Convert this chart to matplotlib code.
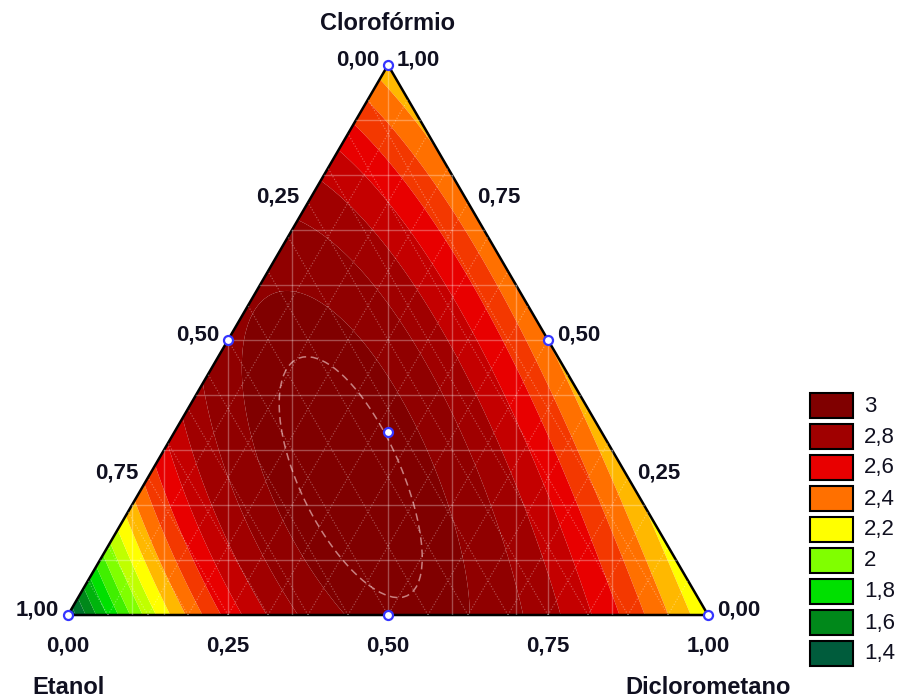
import numpy as np
import matplotlib
matplotlib.use('Agg')
import matplotlib.pyplot as plt
import matplotlib.tri as mtri
from matplotlib.colors import to_rgb, to_hex
from matplotlib.patches import Polygon, Rectangle
from matplotlib.transforms import offset_copy

plt.rcParams['font.family'] = ['Liberation Sans', 'DejaVu Sans']

# pontos (fracoes Etanol, Clorofórmio, Diclorometano) e resposta
etanol = [1, 0, 0, 2/3, 1/3, 2/3, 1/3, 0, 0, 1/3]
cloro = [0, 1, 0, 1/3, 2/3, 0, 0, 2/3, 1/3, 1/3]
dicloro = [0, 0, 1, 0, 0, 1/3, 2/3, 1/3, 2/3, 1/3]
resposta = [1.42, 2.33, 2.22, 2.75, 2.95, 2.85, 2.96, 2.42, 2.35, 3.05]

# pontos do planejamento (simplex-centroide)
exp_etanol = [1, 0, 0, 0.5, 0.5, 0, 1/3]
exp_cloro = [0, 1, 0, 0.5, 0, 0.5, 1/3]
exp_dicloro = [0, 0, 1, 0, 0.5, 0.5, 1/3]

# legenda
leg_valores = [3, 2.8, 2.6, 2.4, 2.2, 2, 1.8, 1.6, 1.4]
leg_textos = ['3', '2,8', '2,6', '2,4', '2,2', '2', '1,8', '1,6', '1,4']
leg_cores = ['#800000', '#A00000', '#E80000', '#FF7000', '#FFFF00',
             '#80FF00', '#00E000', '#00881A', '#005C3C']

ticks = [0, 0.25, 0.5, 0.75, 1]
ticks_txt = ['0,00', '0,25', '0,50', '0,75', '1,00']
niveis_tracejados = [3.055]

H = np.sqrt(3) / 2


def termos(e, c, d):
    e, c, d = (np.asarray(v, dtype=float) for v in (e, c, d))
    return np.stack([e, c, d, e*c, e*d, c*d,
                     e*c*(e - c), e*d*(e - d), c*d*(c - d), e*c*d], axis=-1)


def cart(c, d):
    c = np.asarray(c, dtype=float)
    d = np.asarray(d, dtype=float)
    return d + c / 2, c * H


# modelo cubico de Scheffé ajustado aos pontos
coef = np.linalg.solve(termos(etanol, cloro, dicloro), resposta)

tri0 = mtri.Triangulation([0, 1, 0.5], [0, 0, H])
tri = mtri.UniformTriRefiner(tri0).refine_triangulation(subdiv=7)
c_g = np.clip(tri.y / H, 0, 1)
d_g = np.clip(tri.x - c_g / 2, 0, 1)
e_g = np.clip(1 - c_g - d_g, 0, 1)
z = termos(e_g, c_g, d_g) @ coef

# faixas de 0,1 com cores interpoladas entre as da legenda
niveis = np.round(np.arange(1.4, 3.01, 0.1), 2)
asc_v = leg_valores[::-1]
asc_rgb = np.array([to_rgb(c) for c in leg_cores[::-1]])
cores_faixa = [to_hex([np.interp(v, asc_v, asc_rgb[:, k]) for k in range(3)])
               for v in niveis[:-1]]
cores = ['#004A30'] + cores_faixa + ['#800000']
limites = np.concatenate([[-10], niveis, [10]])

fig = plt.figure(figsize=(9.03, 7.0), dpi=100)
ax = fig.add_axes([68/903, 85/700, 640/903, 550/700])
ax.set_xlim(0, 1)
ax.set_ylim(0, H)
ax.axis('off')

ax.tricontourf(tri, z, levels=limites, colors=cores, antialiased=True)
ax.tricontour(tri, z, levels=niveis_tracejados, colors='#C88080',
              linestyles=[(0, (5, 3))], linewidths=1.1)

# grade retangular clara
for f in np.arange(0.1, 0.95, 0.1):
    y = f * H
    ax.plot([f / 2, 1 - f / 2], [y, y], color='white', alpha=0.3, lw=1)
for xv in [0.10, 0.15, 0.25, 0.35, 0.50, 0.60, 0.70, 0.75, 0.85]:
    ax.plot([xv, xv], [0, 2 * H * min(xv, 1 - xv)], color='white', alpha=0.3, lw=1)

# malha pontilhada
passo = np.arange(1/16, 1, 1/16)
for v in passo:
    # Diclorometano constante (paralela ao lado esquerdo)
    x0, y0 = cart(0, v)
    x1, y1 = cart(1 - v, v)
    ax.plot([x0, x1], [y0, y1], color='white', alpha=0.35, lw=0.8, ls=':')
    # Etanol constante (paralela ao lado direito)
    x0, y0 = cart(0, 1 - v)
    x1, y1 = cart(1 - v, 0)
    ax.plot([x0, x1], [y0, y1], color='white', alpha=0.35, lw=0.8, ls=':')

ax.add_patch(Polygon([[0, 0], [1, 0], [0.5, H]], closed=True, fill=False,
                     edgecolor='black', lw=1.8, clip_on=False))

xm, ym = cart(exp_cloro, exp_dicloro)
ax.plot(xm, ym, 'o', mfc='white', mec='#3535FF', ms=6.5, mew=1.6, clip_on=False)

cor_txt = '#101020'
tk = dict(fontsize=16, fontweight='bold', color=cor_txt)
t_esq = offset_copy(ax.transData, fig=fig, x=-9, y=5, units='dots')
t_dir = offset_copy(ax.transData, fig=fig, x=9, y=5, units='dots')
t_baixo = offset_copy(ax.transData, fig=fig, x=0, y=-31, units='dots')
for v, s in zip(ticks, ticks_txt):
    x, y = cart(1 - v, 0)
    ax.text(x, y, s, transform=t_esq, ha='right', va='center', **tk)
    x, y = cart(v, 1 - v)
    ax.text(x, y, s, transform=t_dir, ha='left', va='center', **tk)
    x, y = cart(0, v)
    ax.text(x, y, s, transform=t_baixo, ha='center', va='center', **tk)

tt = dict(fontsize=17, fontweight='bold', color=cor_txt, ha='center', va='center')
ax.text(0.5, H, 'Clorofórmio',
        transform=offset_copy(ax.transData, fig=fig, x=0, y=42, units='dots'), **tt)
ax.text(0, 0, 'Etanol',
        transform=offset_copy(ax.transData, fig=fig, x=0, y=-73, units='dots'), **tt)
ax.text(1, 0, 'Diclorometano',
        transform=offset_copy(ax.transData, fig=fig, x=0, y=-73, units='dots'), **tt)

# legenda manual
W, Hf = 903, 700
for i, (cor, s) in enumerate(zip(leg_cores, leg_textos)):
    top = 393 + i * 31
    fig.add_artist(Rectangle((810 / W, 1 - (top + 25) / Hf), 43 / W, 25 / Hf,
                             transform=fig.transFigure, facecolor=cor,
                             edgecolor='black', lw=1.5))
    fig.text(864 / W, 1 - (top + 13) / Hf, s, fontsize=16, color=cor_txt,
             ha='left', va='center')

fig.savefig('out.png', dpi=100)
